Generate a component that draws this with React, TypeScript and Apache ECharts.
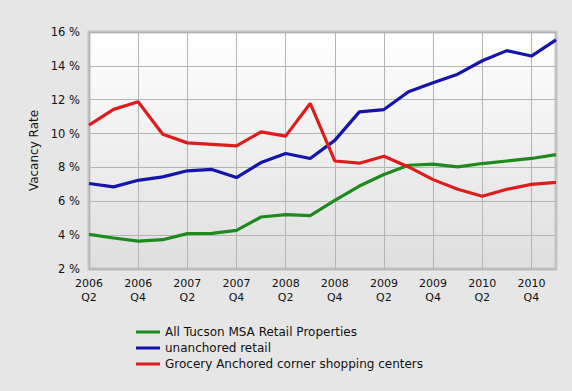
import React, { useEffect, useRef } from "react";
import * as echarts from "echarts";

const categories = [
  "2006\nQ2", "2006\nQ3", "2006\nQ4", "2007\nQ1", "2007\nQ2", "2007\nQ3", "2007\nQ4",
  "2008\nQ1", "2008\nQ2", "2008\nQ3", "2008\nQ4", "2009\nQ1", "2009\nQ2", "2009\nQ3",
  "2009\nQ4", "2010\nQ1", "2010\nQ2", "2010\nQ3", "2010\nQ4", "2011\nQ1",
];

const allTucson = [
  4.05, 3.83, 3.65, 3.73, 4.09, 4.1, 4.28, 5.07, 5.21, 5.15, 6.05, 6.9, 7.58, 8.13,
  8.19, 8.03, 8.23, 8.38, 8.53, 8.76,
];

const unanchored = [
  7.05, 6.85, 7.24, 7.44, 7.8, 7.88, 7.4, 8.29, 8.82, 8.53, 9.6, 11.28, 11.42, 12.47,
  13.0, 13.51, 14.3, 14.9, 14.58, 15.53,
];

const grocery = [
  10.5, 11.43, 11.88, 9.96, 9.45, 9.36, 9.27, 10.1, 9.85, 11.78, 8.38, 8.25, 8.66, 8.03,
  7.28, 6.71, 6.3, 6.71, 7.0, 7.12,
];

const seriesNames = [
  "All Tucson MSA Retail Properties",
  "unanchored retail",
  "Grocery Anchored corner shopping centers",
];

const FONT = "DejaVu Sans";

export default function App() {
  const ref = useRef<HTMLDivElement>(null);

  useEffect(() => {
    if (!ref.current) return;
    const chart = echarts.init(ref.current, null, { renderer: "svg" });
    const mk = (name: string, data: number[], color: string) => ({
      name,
      type: "line",
      data,
      symbol: "none",
      lineStyle: { color, width: 3.2 },
      itemStyle: { color },
    });
    chart.setOption({
      animation: false,
      backgroundColor: "#e6e6e6",
      textStyle: { fontFamily: FONT },
      grid: {
        left: 89,
        right: 16,
        top: 32,
        bottom: 122,
        show: true,
        borderColor: "#c2c2c2",
        borderWidth: 3,
        backgroundColor: new echarts.graphic.LinearGradient(0, 0, 0, 1, [
          { offset: 0, color: "#ffffff" },
          { offset: 1, color: "#dedede" },
        ]),
      },
      legend: {
        orient: "vertical",
        left: 131,
        top: 321,
        itemWidth: 24,
        itemHeight: 3,
        itemGap: 4,
        icon: "rect",
        textStyle: { fontFamily: FONT, fontSize: 12, color: "#111" },
        data: seriesNames,
      },
      xAxis: {
        type: "category",
        data: categories,
        boundaryGap: false,
        axisLine: { show: false },
        axisTick: { show: false },
        axisLabel: {
          interval: 1,
          fontFamily: FONT,
          fontSize: 11,
          color: "#111",
          lineHeight: 14,
          margin: 7,
        },
        splitLine: { show: true, interval: 1, lineStyle: { color: "#b4b4b4", width: 1 } },
      },
      yAxis: {
        type: "value",
        min: 2,
        max: 16,
        interval: 2,
        name: "Vacancy Rate",
        nameLocation: "middle",
        nameGap: 48,
        nameTextStyle: { fontFamily: FONT, fontSize: 12, color: "#111" },
        axisLine: { show: false },
        axisTick: { show: false },
        axisLabel: {
          formatter: "{value} %",
          fontFamily: FONT,
          fontSize: 11.5,
          color: "#111",
          margin: 9,
        },
        splitLine: { lineStyle: { color: "#b4b4b4", width: 1 } },
      },
      series: [
        mk(seriesNames[0], allTucson, "#1e8a1e"),
        mk(seriesNames[1], unanchored, "#1414aa"),
        mk(seriesNames[2], grocery, "#dd1c1c"),
      ],
    });
    return () => chart.dispose();
  }, []);

  return (
    <div
      ref={ref}
      style={{ position: "fixed", left: 0, top: 0, width: 572, height: 391 }}
    />
  );
}
